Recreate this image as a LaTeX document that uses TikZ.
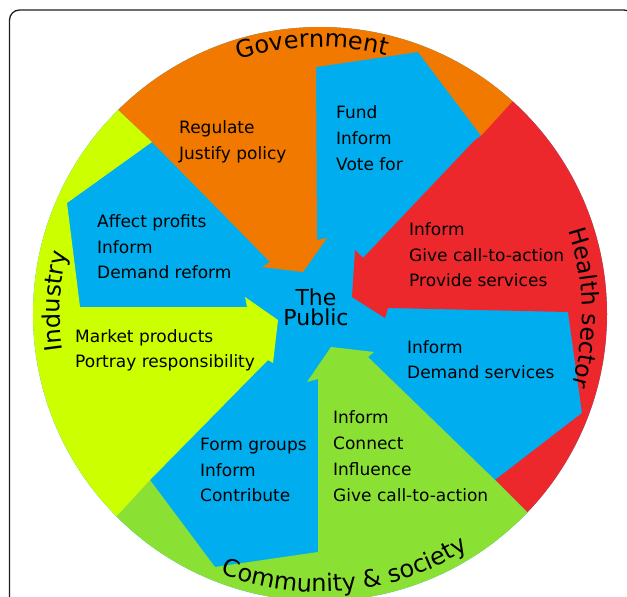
\documentclass[tikz,border=0pt]{standalone}
\usepackage{fontspec}
\setmainfont{DejaVu Sans}
\usetikzlibrary{decorations.text}
\definecolor{pubblue}{RGB}{0,174,239}
\definecolor{govorange}{RGB}{242,121,0}
\definecolor{healthred}{RGB}{236,40,45}
\definecolor{commgreen}{RGB}{138,225,52}
\definecolor{indyellow}{RGB}{204,255,0}
\definecolor{framegray}{RGB}{30,30,30}
\begin{document}
\begin{tikzpicture}[x=1pt,y=1pt,
  lbl/.style={anchor=base west, inner sep=0pt, font=\fontsize{17}{20}\selectfont},
  ctr/.style={anchor=base, inner sep=0pt, font=\fontsize{22}{22}\selectfont},
  arclabel/.style={decorate, decoration={text along path, text align=center, text={#1}}}]
\clip (0,0) rectangle (627,-597);
\useasboundingbox (0,0) rectangle (627,-597);
% frame
\draw[framegray, line width=1.3pt, rounded corners=10pt] (9.5,-10) rectangle (634,-640);
% disc
\coordinate (O) at (320,-314);
\fill[pubblue] (O) circle[radius=287];
\begin{scope}
\clip (O) circle[radius=287];
% Government (orange)
\fill[govorange] (152,-142) -- (118,-110) -- (25,-16) -- (320,120) -- (601,-2) -- (513,-101)
  -- (482,-137) -- (418,-52) -- (316,-67) -- (317,-240) -- (327,-238) -- (303,-272)
  -- (262,-267) -- (270,-262) -- cycle;
% Health sector (red)
\fill[healthred] (513,-101) -- (482,-135) -- (474,-141) -- (363,-258) -- (355,-250)
  -- (352,-297) -- (385,-318) -- (388,-308) -- (568,-312) -- (582,-413) -- (495,-480)
  -- (528,-513) -- (624,-604) -- (740,-314) -- (601,-2) -- cycle;
% Community & society (green)
\fill[commgreen] (528,-513) -- (495,-480) -- (368,-357) -- (374,-352) -- (331,-347)
  -- (307,-382) -- (318,-379) -- (318,-552) -- (215,-567) -- (150,-480) -- (118,-515)
  -- (21,-609) -- (320,-740) -- (624,-604) -- cycle;
% Industry (yellow-green)
\fill[indyellow] (118,-515) -- (150,-480) -- (268,-360) -- (273,-363) -- (278,-320)
  -- (245,-297) -- (247,-307) -- (80,-307) -- (67,-203) -- (152,-142) -- (118,-110)
  -- (25,-16) -- (-100,-314) -- (21,-609) -- cycle;
\end{scope}
% sector titles along the rim
\path[arclabel={|\fontsize{24}{24}\selectfont|Government}]
  ([shift={(116.7:267)}]O) arc[start angle=116.7, end angle=66.7, radius=267];
\path[arclabel={|\fontsize{23.5}{24}\selectfont|Health sector}]
  ([shift={(31.3:262)}]O) arc[start angle=31.3, end angle=-28.7, radius=262];
\path[arclabel={|\fontsize{24}{24}\selectfont|Industry}]
  ([shift={(207.2:260)}]O) arc[start angle=207.2, end angle=147.2, radius=260];
\path[arclabel={|\fontsize{24}{24}\selectfont|Community {\&} society}]
  ([shift={(-119.4:278)}]O) arc[start angle=-119.4, end angle=-49.4, radius=278];
% centre
\node[ctr] (pub1) at (316,-305) {The};
\node[ctr] (pub2) at (316,-325) {Public};
% government
\node[lbl] (g1) at (179,-133) {Regulate};
\node[lbl] (g2) at (179,-159) {Justify policy};
% public -> government
\node[lbl] (pg1) at (336,-118) {Fund};
\node[lbl] (pg2) at (336,-144) {Inform};
\node[lbl] (pg3) at (336,-170) {Vote for};
% public -> industry
\node[lbl] (pi1) at (97,-227) {Affect profits};
\node[lbl] (pi2) at (97,-253) {Inform};
\node[lbl] (pi3) at (97,-278) {Demand reform};
% industry
\node[lbl] (i1) at (75,-342) {Market products};
\node[lbl] (i2) at (75,-367) {Portray responsibility};
% health sector
\node[lbl] (h1) at (409,-235) {Inform};
\node[lbl] (h2) at (409,-261) {Give call-to-action};
\node[lbl] (h3) at (409,-286) {Provide services};
% public -> health
\node[lbl] (ph1) at (407,-353) {Inform};
\node[lbl] (ph2) at (407,-378) {Demand services};
% community
\node[lbl] (c1) at (333,-423) {Inform};
\node[lbl] (c2) at (333,-449) {Connect};
\node[lbl] (c3) at (333,-475) {Influence};
\node[lbl] (c4) at (333,-501) {Give call-to-action};
% public -> community
\node[lbl] (pc1) at (200,-450) {Form groups};
\node[lbl] (pc2) at (200,-476) {Inform};
\node[lbl] (pc3) at (200,-501) {Contribute};
\end{tikzpicture}
\end{document}
